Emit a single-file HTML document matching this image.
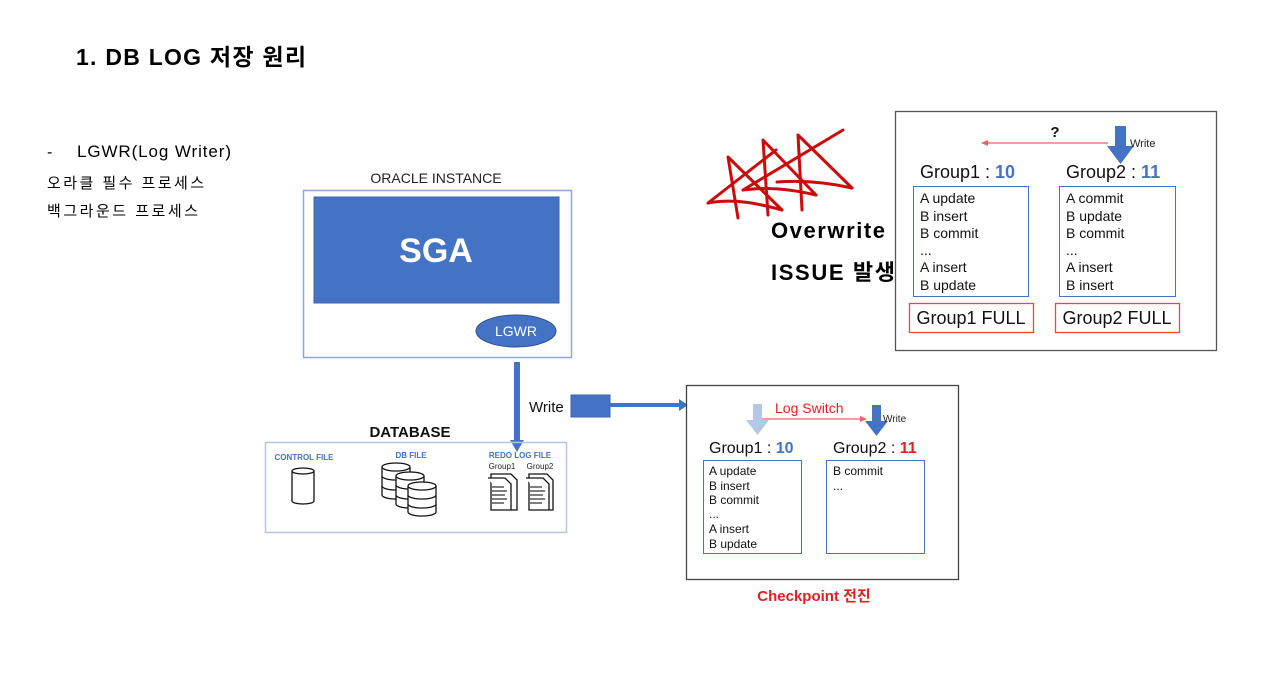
<!DOCTYPE html>
<html><head><meta charset="utf-8"><style>
html,body{margin:0;padding:0;background:#fff;width:1261px;height:694px;overflow:hidden}
svg{display:block}
text{font-family:"Liberation Sans","Noto Sans CJK KR",sans-serif}
</style></head><body>
<svg width="1261" height="694" viewBox="0 0 1261 694" xmlns="http://www.w3.org/2000/svg">
<text x="76" y="65" font-size="23" font-weight="bold" fill="#000" textLength="230">1. DB LOG 저장 원리</text>
<text x="47" y="157" font-size="16" fill="#000">-</text>
<text x="77" y="157" font-size="17" fill="#000" textLength="154">LGWR(Log Writer)</text>
<text x="47" y="188" font-size="15" fill="#000" textLength="157">오라클 필수 프로세스</text>
<text x="47" y="216" font-size="15" fill="#000" textLength="151">백그라운드 프로세스</text>

<!-- Oracle instance -->
<text x="436" y="183" font-size="14" text-anchor="middle" fill="#222">ORACLE INSTANCE</text>
<rect x="303.5" y="190.5" width="268" height="167" fill="#fff" stroke="#8fa7d6" stroke-width="1.5"/>
<rect x="314" y="197" width="245" height="106" fill="#4472c4" stroke="#3a64b0"/>
<text x="436" y="262" font-size="34" font-weight="bold" text-anchor="middle" fill="#fff">SGA</text>
<ellipse cx="516" cy="331" rx="40" ry="16" fill="#4472c4" stroke="#2f528f"/>
<text x="516" y="336" font-size="14" text-anchor="middle" fill="#fff">LGWR</text>

<rect x="514" y="362" width="6" height="80" fill="#4472c4"/>
<polygon points="510,440 524,440 517,452" fill="#4472c4"/>

<text x="410" y="437" font-size="15" font-weight="bold" text-anchor="middle" fill="#111">DATABASE</text>
<rect x="265.5" y="442.5" width="301" height="90" fill="none" stroke="#b4c6e7" stroke-width="1.5"/>
<text x="304" y="460" font-size="8" font-weight="bold" text-anchor="middle" fill="#4472c4">CONTROL FILE</text>
<text x="411" y="458" font-size="8" font-weight="bold" text-anchor="middle" fill="#4472c4">DB FILE</text>
<text x="520" y="458" font-size="8" font-weight="bold" text-anchor="middle" fill="#4472c4">REDO LOG FILE</text>
<text x="502" y="469" font-size="8" text-anchor="middle" fill="#222">Group1</text>
<text x="540" y="469" font-size="8" text-anchor="middle" fill="#222">Group2</text>
<g fill="#fff" stroke="#111" stroke-width="1.3">
<path d="M292,471 v30 a11,3 0 0 0 22,0 v-30"/><ellipse cx="303" cy="471" rx="11" ry="3"/>
<g><path d="M382,467 v28 a14,4 0 0 0 28,0 v-28"/><ellipse cx="396" cy="467" rx="14" ry="4"/><path d="M382,476 a14,4 0 0 0 28,0 M382,486 a14,4 0 0 0 28,0"/></g>
<g><path d="M396,476 v28 a14,4 0 0 0 28,0 v-28"/><ellipse cx="410" cy="476" rx="14" ry="4"/><path d="M396,485 a14,4 0 0 0 28,0 M396,495 a14,4 0 0 0 28,0"/></g>
<g><path d="M408,486 v26 a14,4 0 0 0 28,0 v-26"/><ellipse cx="422" cy="486" rx="14" ry="4"/><path d="M408,495 a14,4 0 0 0 28,0 M408,504 a14,4 0 0 0 28,0"/></g>
<path d="M491,474 h20 l6,6 v30 h-26z"/><path d="M488,478 h17 l6,6 v26"/>
<path d="M529,474 h18 l6,6 v30 h-24z"/><path d="M526,478 h17 l6,6 v26"/>
</g>
<g stroke="#333" stroke-width="1.2">
<path d="M492,487 h12 M492,491 h15 M492,495 h13 M492,499 h15 M492,503 h12"/>
<path d="M530,487 h12 M530,491 h15 M530,495 h13 M530,499 h15 M530,503 h12"/>
</g>

<text x="529" y="412" font-size="15" fill="#111">Write</text>
<rect x="571" y="395" width="39" height="22" fill="#4472c4" stroke="#3a64b0"/>
<rect x="610" y="403" width="70" height="4" fill="#4472c4"/>
<polygon points="679,399 688,405 679,411" fill="#4472c4"/>

<rect x="686.5" y="385.5" width="272" height="194" fill="#fff" stroke="#444" stroke-width="1.3"/>
<rect x="753" y="404" width="9" height="17" fill="#b4c7e7"/>
<polygon points="746,420 769,420 757.5,435" fill="#b4c7e7"/>
<text x="775" y="413" font-size="14" fill="#e02020">Log Switch</text>
<line x1="762" y1="419" x2="862" y2="419" stroke="#f06060" stroke-width="1.2"/>
<polygon points="860,416 867,419 860,422" fill="#f06060"/>
<rect x="872" y="405" width="9" height="17" fill="#4472c4"/>
<polygon points="865,421 888,421 876.5,436" fill="#4472c4"/>
<text x="883" y="422" font-size="10" fill="#222">Write</text>
<text x="709" y="453" font-size="16" fill="#111">Group1 : <tspan font-weight="bold" fill="#4472c4">10</tspan></text>
<text x="833" y="453" font-size="16" fill="#111">Group2 : <tspan font-weight="bold" fill="#e02020">11</tspan></text>
<rect x="703.5" y="460.5" width="98" height="93" fill="none" stroke="#4472c4"/>
<rect x="826.5" y="460.5" width="98" height="93" fill="none" stroke="#4472c4"/>
<g font-size="12" fill="#111">
<text x="709" y="475">A update</text><text x="709" y="490">B insert</text><text x="709" y="504">B commit</text>
<text x="709" y="518">...</text><text x="709" y="533">A insert</text><text x="709" y="548">B update</text>
<text x="833" y="475">B commit</text><text x="833" y="490">...</text>
</g>
<text x="814" y="601" font-size="15" font-weight="bold" text-anchor="middle" fill="#e02020">Checkpoint 전진</text>

<g fill="none" stroke="#cc0a0a" stroke-width="3" stroke-linecap="round" stroke-linejoin="round">
<path d="M738,218 L728,157 L782,210"/>
<path d="M708,203 C735,198 760,204 782,210"/>
<path d="M708,203 L776,150"/>
<path d="M768,215 L763,140 L816,195"/>
<path d="M743,190 C770,186 795,190 816,195"/>
<path d="M802,210 L798,135 L852,188"/>
<path d="M777,182 C805,180 830,183 852,188"/>
<path d="M743,190 L843,130"/>
</g>
<text x="771" y="238" font-size="22" font-weight="bold" fill="#000" textLength="114">Overwrite</text>
<text x="771" y="280" font-size="22" font-weight="bold" fill="#000" textLength="124">ISSUE 발생</text>

<rect x="895.5" y="111.5" width="321" height="239" fill="#fff" stroke="#555" stroke-width="1.3"/>
<text x="1055" y="137" font-size="15" font-weight="bold" text-anchor="middle" fill="#111">?</text>
<line x1="986" y1="143" x2="1108" y2="143" stroke="#f06060" stroke-width="1.2"/>
<polygon points="988,140 981,143 988,146" fill="#f06060"/>
<rect x="1115" y="126" width="11" height="21" fill="#4472c4"/>
<polygon points="1107,146 1134,146 1120.5,164" fill="#4472c4"/>
<text x="1130" y="147" font-size="11" fill="#222">Write</text>
<text x="920" y="178" font-size="18" fill="#111">Group1 : <tspan font-weight="bold" fill="#4472c4">10</tspan></text>
<text x="1066" y="178" font-size="18" fill="#111">Group2 : <tspan font-weight="bold" fill="#4472c4">11</tspan></text>
<rect x="913.5" y="186.5" width="115" height="110" fill="none" stroke="#4472c4"/>
<rect x="1059.5" y="186.5" width="116" height="110" fill="none" stroke="#4472c4"/>
<g font-size="14" fill="#111">
<text x="920" y="203">A update</text><text x="920" y="221">B insert</text><text x="920" y="238">B commit</text>
<text x="920" y="255">...</text><text x="920" y="272">A insert</text><text x="920" y="290">B update</text>
<text x="1066" y="203">A commit</text><text x="1066" y="221">B update</text><text x="1066" y="238">B commit</text>
<text x="1066" y="255">...</text><text x="1066" y="272">A insert</text><text x="1066" y="290">B insert</text>
</g>
<rect x="909.5" y="303.5" width="124" height="29" fill="none" stroke="#ee4444" stroke-width="1.3"/>
<rect x="1055.5" y="303.5" width="124" height="29" fill="none" stroke="#ee4444" stroke-width="1.3"/>
<text x="971" y="324" font-size="18" text-anchor="middle" fill="#111">Group1 FULL</text>
<text x="1117" y="324" font-size="18" text-anchor="middle" fill="#111">Group2 FULL</text>
</svg>
</body></html>
